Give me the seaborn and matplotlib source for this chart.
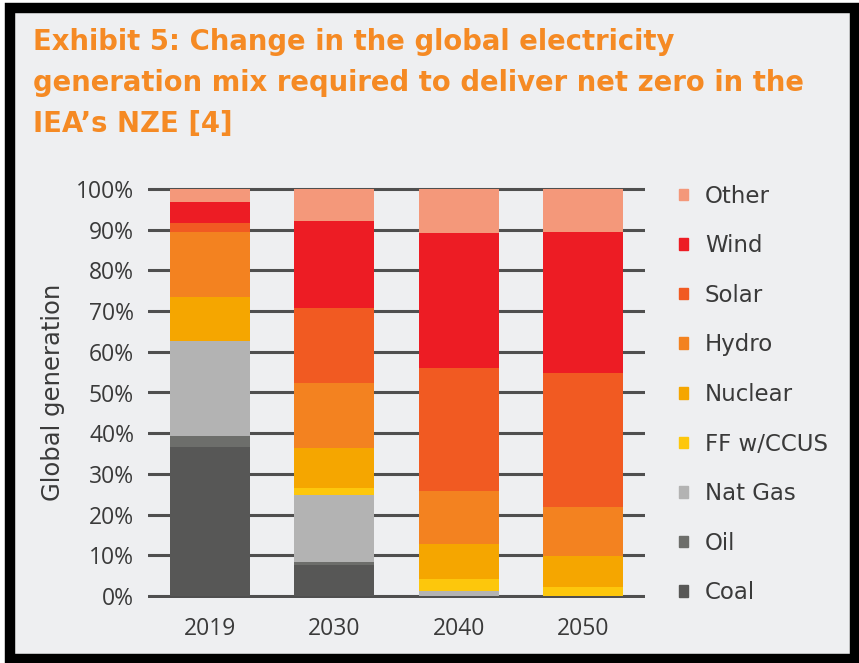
import matplotlib
matplotlib.use("Agg")
import matplotlib.pyplot as plt
import matplotlib.patches as mpatches
import numpy as np
import seaborn as sns

# --- data (share of global generation, %) ---
years = ["2019", "2030", "2040", "2050"]
sources = ["Coal", "Oil", "Nat Gas", "FF w/CCUS", "Nuclear", "Hydro", "Solar", "Wind", "Other"]
coal = [36.5, 7.6, 0.0, 0.0]
oil = [2.9, 0.8, 0.0, 0.0]
nat_gas = [23.3, 16.5, 1.1, 0.0]
ff_ccus = [0.0, 1.6, 3.0, 2.3]
nuclear = [10.7, 9.9, 8.6, 7.6]
hydro = [16.1, 15.9, 13.2, 11.9]
solar = [2.2, 18.5, 30.0, 33.1]
wind = [5.2, 21.3, 33.2, 34.6]
other = [3.1, 7.9, 10.9, 10.5]

colours = ["#575756", "#6d6e6b", "#b3b3b3", "#fdc70c", "#f5a600",
           "#f38220", "#f15a22", "#ed1c24", "#f4987a"]

series = [coal, oil, nat_gas, ff_ccus, nuclear, hydro, solar, wind, other]
cum = np.cumsum(np.array(series), axis=0)

sns.set_style("white")
plt.rcParams["font.family"] = ["Open Sans", "DejaVu Sans"]

bg = "#eeeff1"
txt = "#3a3a3a"
fig = plt.figure(figsize=(8.59, 6.63), dpi=100, facecolor="white")

# outer frame
fig.patches.append(mpatches.Rectangle((10 / 859, 4 / 663), 845 / 859, 651 / 663,
                                      transform=fig.transFigure, facecolor=bg,
                                      edgecolor="black", linewidth=7.5, zorder=-10))

ax = fig.add_axes([148 / 859, 1 - 597.6 / 663, 497 / 859, 410.2 / 663])
ax.set_facecolor("none")

# stacked bars: draw cumulative totals from the top down so lower ones overlay
for i in range(len(sources) - 1, -1, -1):
    sns.barplot(x=years, y=cum[i], color=colours[i], width=0.645,
                saturation=1, ax=ax, zorder=3, linewidth=0)

ax.set_ylim(-0.4, 100.4)
ax.set_xlim(-0.5, 3.5)
ax.set_yticks(np.arange(0, 101, 10))
ax.set_yticklabels([f"{v}%" for v in range(0, 101, 10)])
ax.yaxis.grid(True, color="#4f4f4f", linewidth=2.2, zorder=0)
ax.set_axisbelow(True)
for s in ax.spines.values():
    s.set_visible(False)
ax.tick_params(axis="both", length=0, labelsize=16.5, colors=txt)
ax.tick_params(axis="y", pad=10)
ax.tick_params(axis="x", pad=14)
ax.set_xlabel("")
ax.set_ylabel("Global generation", fontsize=17.5, color=txt, labelpad=8,
              family=["DejaVu Sans"])

# legend
handles = [mpatches.Patch(color=colours[i], label=sources[i])
           for i in range(len(sources) - 1, -1, -1)]
fig.legend(handles=handles, loc="upper left", bbox_to_anchor=(658 / 859, 1 - 164 / 663),
           frameon=False, prop={"family": "DejaVu Sans", "size": 16.5},
           handlelength=0.4, handleheight=0.4,
           handletextpad=0.75, labelspacing=1.16, labelcolor=txt)

# title
orange = "#f58a24"
title_lines = ["Exhibit 5: Change in the global electricity",
               "generation mix required to deliver net zero in the",
               "IEA\u2019s NZE [4]"]
for k, line in enumerate(title_lines):
    fig.text(33 / 859, 1 - (50 + 41 * k) / 663, line, fontsize=19.8, fontweight="bold",
             family=["DejaVu Sans"], color=orange, va="baseline", ha="left")

fig.savefig("out.png", dpi=100, facecolor=fig.get_facecolor())
